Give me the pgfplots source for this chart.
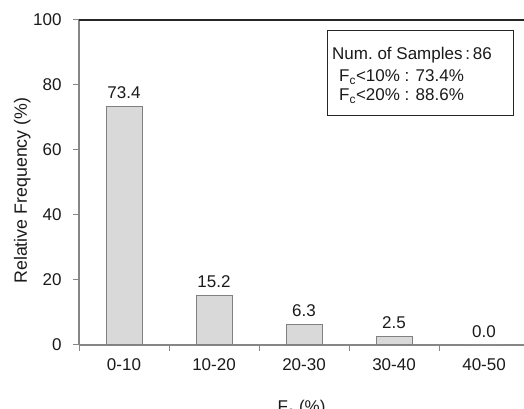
\documentclass[border=0pt]{standalone}
\usepackage{pgfplots}
\pgfplotsset{compat=1.18}
\usepackage{fontspec}
\setmainfont{Liberation Sans}
\definecolor{spine}{HTML}{868686}
\definecolor{barfill}{HTML}{D9D9D9}
\definecolor{baredge}{HTML}{808080}
\definecolor{txt}{HTML}{1A1A1A}
\begin{document}
\begin{tikzpicture}[font=\fontsize{17}{20}\selectfont, text=txt]
\useasboundingbox (0pt,0pt) rectangle (524pt,409pt);
\clip (0pt,0pt) rectangle (524pt,409pt);
\begin{axis}[
  at={(79pt,64pt)}, anchor=south west,
  scale only axis, width=445pt, height=325pt,
  xmin=-0.5, xmax=4.444, ymin=0, ymax=100,
  ybar, bar width=36pt,
  axis x line*=bottom, axis y line*=left,
  axis line style={-, draw=spine, line width=1.3pt},
  /pgf/number format/assume math mode=true,
  ytick={0,20,40,60,80,100},
  xtick={0,1,2,3,4},
  xticklabels={0-10,10-20,20-30,30-40,40-50},
  minor xtick={-0.5,0.5,1.5,2.5,3.5,4.5},
  tick align=outside,
  major tick length=6pt, minor tick length=6pt,
  tick style={draw=spine, line width=1pt},
  major x tick style={draw=none},
  yticklabel style={xshift=-8pt, text=txt},
  xticklabel style={yshift=-4pt, text=txt},
  xlabel={F\textsubscript{c} (\%)},
  ylabel={Relative Frequency (\%)},
  xlabel style={at={([yshift=-52pt]axis description cs:0.5,0)}, anchor=north},
  ylabel style={at={([xshift=-45pt]axis description cs:0,0.475)}, anchor=south, font=\fontsize{17.8}{20}\selectfont},
  nodes near coords={\pgfmathprintnumber[fixed,fixed zerofill,precision=1]{\pgfplotspointmeta}},
  every node near coord/.append style={yshift=4pt, text=txt},
  clip=false,
]
\addplot[fill=barfill, draw=baredge, line width=1pt]
  coordinates {(0,73.4) (1,15.2) (2,6.3) (3,2.5) (4,0.0)};
\draw[black!85, line width=1.3pt] (rel axis cs:0,1) -- (rel axis cs:1,1);
\end{axis}
\draw[black!85, line width=1pt] (327pt,293pt) rectangle (513pt,378pt);
\node[anchor=base west, inner sep=0pt] at (332pt,349pt) {Num.\ of Samples\,:\,86};
\node[anchor=base west, inner sep=0pt] at (339pt,327pt) {F\textsubscript{c}<10\% : 73.4\%};
\node[anchor=base west, inner sep=0pt] at (339pt,308pt) {F\textsubscript{c}<20\% : 88.6\%};
\end{tikzpicture}
\end{document}
